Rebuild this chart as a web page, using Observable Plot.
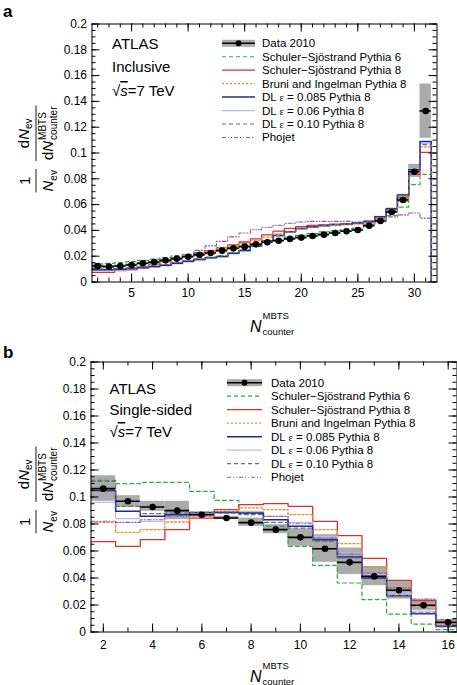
<!DOCTYPE html>
<html><head><meta charset="utf-8">
<script src="https://cdn.jsdelivr.net/npm/d3@7"></script>
<script src="https://cdn.jsdelivr.net/npm/@observablehq/plot@0.6"></script>
<style>
body{margin:0;background:#fff;}
#chart{width:457px;}
#chart svg{display:block;}
</style></head><body><div id="chart"></div>
<script>
// ---------- Panel a: Inclusive ----------
const nA = [2,3,4,5,6,7,8,9,10,11,12,13,14,15,16,17,18,19,20,21,22,23,24,25,26,27,28,29,30,31];
const dataA = [0.0124,0.0119,0.0124,0.0132,0.0145,0.0155,0.0168,0.0181,0.0196,0.021,0.0225,0.0243,0.0261,0.0274,0.0292,0.0308,0.032,0.0334,0.0344,0.0357,0.0367,0.038,0.0393,0.0403,0.0437,0.0473,0.0543,0.0636,0.0855,0.1326];
const bandLoA = [0.0116,0.0111,0.0116,0.0124,0.0137,0.0147,0.016,0.0173,0.0188,0.0202,0.0217,0.0235,0.0253,0.0266,0.0284,0.03,0.0312,0.0326,0.0336,0.0349,0.0359,0.0372,0.0385,0.0395,0.0427,0.0461,0.0529,0.0616,0.0811,0.1114];
const bandHiA = [0.0132,0.0127,0.0132,0.014,0.0153,0.0163,0.0176,0.0189,0.0204,0.0218,0.0233,0.0251,0.0269,0.0282,0.03,0.0316,0.0328,0.0342,0.0352,0.0365,0.0375,0.0388,0.0401,0.0411,0.0447,0.0485,0.0557,0.0656,0.0912,0.1535];
const ssP6A = [0.014,0.0145,0.015,0.0158,0.0168,0.0178,0.019,0.0202,0.0215,0.0227,0.0238,0.025,0.0262,0.0275,0.029,0.0312,0.033,0.0348,0.0362,0.0375,0.0388,0.0398,0.0408,0.0418,0.0435,0.0465,0.0515,0.058,0.0755,0.0835];
const ssP8A = [0.0075,0.0075,0.0088,0.0095,0.0118,0.0138,0.0158,0.0178,0.0198,0.022,0.0242,0.0265,0.0288,0.031,0.0335,0.0365,0.0395,0.0415,0.043,0.0438,0.0442,0.0446,0.045,0.0455,0.0465,0.0495,0.0553,0.0655,0.0835,0.1005];
const bruniA = [0.009,0.009,0.0098,0.0105,0.0122,0.014,0.0158,0.0176,0.0195,0.0215,0.0235,0.0256,0.0278,0.03,0.0322,0.0348,0.0372,0.0395,0.0412,0.0425,0.0432,0.0438,0.0443,0.0448,0.0458,0.049,0.0553,0.066,0.085,0.1047];
const dl085A = [0.0095,0.0095,0.0098,0.0102,0.011,0.012,0.013,0.0145,0.016,0.0175,0.0188,0.0198,0.0222,0.0245,0.028,0.032,0.036,0.039,0.0415,0.0428,0.0438,0.0445,0.045,0.0458,0.047,0.0505,0.0568,0.0675,0.087,0.109];
const dl06A = [0.0088,0.0088,0.0092,0.0096,0.0104,0.0114,0.0125,0.014,0.0155,0.017,0.0183,0.0195,0.0218,0.0242,0.0276,0.0316,0.0356,0.0388,0.0412,0.0426,0.0436,0.0444,0.045,0.0458,0.0472,0.0508,0.0572,0.068,0.0875,0.1075];
const dl10A = [0.0102,0.0102,0.0105,0.0109,0.0117,0.0127,0.0137,0.0151,0.0166,0.018,0.0193,0.0204,0.0227,0.025,0.0284,0.0323,0.0362,0.0391,0.0415,0.0428,0.0437,0.0444,0.0449,0.0456,0.0468,0.0502,0.0565,0.067,0.0862,0.1065];
const phojetA = [0.0115,0.0118,0.0122,0.013,0.014,0.015,0.0165,0.0185,0.021,0.0245,0.028,0.0315,0.035,0.038,0.0405,0.0425,0.044,0.0455,0.0465,0.047,0.047,0.047,0.047,0.0465,0.0468,0.048,0.0505,0.052,0.0535,0.0495];

// ---------- Panel b: Single-sided ----------
const nB = [2,3,4,5,6,7,8,9,10,11,12,13,14,15,16];
const dataB = [0.1062,0.0968,0.0926,0.0899,0.0869,0.0844,0.081,0.0758,0.0701,0.0617,0.0516,0.0412,0.0309,0.0198,0.0072];
const bandLoB = [0.0968,0.0923,0.0894,0.0832,0.0852,0.0832,0.0783,0.0728,0.0635,0.0516,0.0425,0.0343,0.0244,0.016,0.0052];
const bandHiB = [0.1158,0.101,0.0968,0.0968,0.0886,0.0857,0.0844,0.0795,0.0763,0.0721,0.0622,0.0486,0.0375,0.024,0.0091];
const ssP6B = [0.1123,0.1099,0.1109,0.1109,0.1042,0.0975,0.0877,0.0783,0.0635,0.0494,0.0363,0.024,0.0133,0.0059,0.0017];
const ssP8B = [0.0669,0.0635,0.0684,0.0758,0.0844,0.0906,0.0943,0.0951,0.0931,0.082,0.0714,0.0546,0.0383,0.0232,0.0067];
const bruniB = [0.0812,0.0738,0.0758,0.0815,0.0857,0.0894,0.0919,0.0906,0.0869,0.0758,0.0654,0.0481,0.0326,0.019,0.0054];
const dl085B = [0.1049,0.0894,0.0857,0.0869,0.0886,0.0886,0.0881,0.0832,0.0783,0.0684,0.0556,0.04,0.0269,0.0136,0.0042];
const dl06B = [0.096,0.084,0.082,0.0857,0.0881,0.0886,0.0894,0.0857,0.0812,0.0709,0.0585,0.0425,0.0289,0.0153,0.0047];
const dl10B = [0.1116,0.0931,0.0877,0.0881,0.0886,0.0881,0.0869,0.0812,0.077,0.0672,0.0548,0.0407,0.0269,0.0141,0.0037];
const phojetB = [0.082,0.0812,0.0832,0.0857,0.0881,0.0889,0.0881,0.0857,0.0802,0.0696,0.0578,0.0437,0.0326,0.0244,0.0091];

// ---------- ticks & labels ----------
const yTicks = [0,0.02,0.04,0.06,0.08,0.1,0.12,0.14,0.16,0.18,0.2];
const xTicksA = [5,10,15,20,25,30];
const xTicksB = [2,4,6,8,10,12,14,16];
const dataLabel = "Data 2010";
const seriesLabels = ["Schuler\u2212Sj\u00f6strand Pythia 6","Schuler\u2212Sj\u00f6strand Pythia 8","Bruni and Ingelman Pythia 8","DL \u03b5 = 0.085 Pythia 8","DL \u03b5 = 0.06 Pythia 8","DL \u03b5 = 0.10 Pythia 8","Phojet"];
const seriesKeys = ["ssP6","ssP8","bruni","dl085","dl06","dl10","phojet"];

// ---------- styles ----------
const STYLE = {
  ssP6:  {stroke:"#33a84a", width:1.2, dash:"4,3"},
  ssP8:  {stroke:"#e0302c", width:1.3, dash:null},
  bruni: {stroke:"#f08a30", width:1.3, dash:"2,2"},
  dl085: {stroke:"#1f2b8f", width:1.5, dash:null},
  dl06:  {stroke:"#b8bcf2", width:1.3, dash:null},
  dl10:  {stroke:"#6e6e78", width:1.2, dash:"4,3"},
  phojet:{stroke:"#8c5a9c", width:1.1, dash:"4,2,1,2,1,2"}
};
const drawOrder = ["ssP6","ssP8","bruni","dl06","phojet","dl085","dl10"];
const FONT = "'Liberation Sans', Arial, Helvetica, sans-serif";

function stepPts(ns, vals, drop) {
  const pts = ns.map((n, i) => ({x: n - 0.5, y: vals[i]}));
  const last = ns.length - 1;
  pts.push({x: ns[last] + 0.5, y: vals[last]});
  if (drop) pts.push({x: ns[last] + 0.5, y: 0});
  return pts;
}

function makePanel(cfg) {
  const rows = cfg.ns.map((n, i) => ({n, x1: n - 0.5, x2: n + 0.5, v: cfg.data[i], lo: cfg.lo[i], hi: cfg.hi[i]}));
  const innerW = cfg.width - cfg.mL - cfg.mR;
  const innerH = cfg.height - cfg.mT - cfg.mB;
  const yMinor = d3.range(0, 0.2001, 0.005);
  const xMinor = d3.range(Math.ceil(cfg.xDomain[0]), Math.floor(cfg.xDomainVisible) + 1, 1);
  const MAJ = 8, MIN = 4;
  const marks = [
    Plot.rect(rows, {x1: "x1", x2: "x2", y1: "lo", y2: "hi", fill: "#ababab", clip: true}),
    ...drawOrder.map(k => Plot.line(stepPts(cfg.ns, cfg.mc[k], cfg.drop), {
      x: "x", y: "y", curve: "step-after", stroke: STYLE[k].stroke, strokeWidth: STYLE[k].width,
      strokeDasharray: STYLE[k].dash, clip: true
    })),
    Plot.ruleY(rows, {y: "v", x1: "x1", x2: "x2", stroke: "black", strokeWidth: 1.6, clip: true}),
    Plot.dot(rows, {x: "n", y: "v", r: 3.3, fill: "black", stroke: null}),
    Plot.frame({stroke: "black", strokeWidth: 1}),
    Plot.ruleY(yMinor, {insetRight: innerW - MIN, stroke: "black"}),
    Plot.ruleY(yMinor, {insetLeft: innerW - MIN, stroke: "black"}),
    Plot.ruleY(yTicks, {insetRight: innerW - MAJ, stroke: "black"}),
    Plot.ruleY(yTicks, {insetLeft: innerW - MAJ, stroke: "black"}),
    Plot.ruleX(xMinor, {insetTop: innerH - MIN, stroke: "black"}),
    Plot.ruleX(xMinor, {insetBottom: innerH - MIN, stroke: "black"}),
    Plot.ruleX(cfg.xTicks, {insetTop: innerH - MAJ, stroke: "black"}),
    Plot.ruleX(cfg.xTicks, {insetBottom: innerH - MAJ, stroke: "black"}),
    Plot.axisY(yTicks, {anchor: "left", tickSize: 0, tickPadding: 5, tickFormat: d => String(d), label: null, fontSize: 12}),
    Plot.axisX(cfg.xTicks, {anchor: "bottom", tickSize: 0, tickPadding: cfg.xPad, tickFormat: d => String(d), label: null, fontSize: 12})
  ];
  return Plot.plot({
    width: cfg.width, height: cfg.height,
    marginLeft: cfg.mL, marginRight: cfg.mR, marginTop: cfg.mT, marginBottom: cfg.mB,
    x: {type: "linear", domain: cfg.xDomain, range: cfg.xRange, axis: null},
    y: {type: "linear", domain: [0, 0.2], axis: null},
    style: {fontFamily: FONT, fontSize: "12px", color: "black", background: "white"},
    marks
  });
}

function addText(g, x, y, s, size, opts = {}) {
  const t = g.append("text").attr("x", x).attr("y", y).attr("font-size", size)
    .attr("font-family", FONT).attr("fill", "black")
    .attr("text-anchor", opts.anchor || "start").text(s);
  if (opts.italic) t.attr("font-style", "italic");
  if (opts.bold) t.attr("font-weight", "bold");
  return t.node().getComputedTextLength();
}

function nMbts(g, x, y, big, small, supDy, subDy) {
  const wN = addText(g, x, y, "N", big, {italic: true});
  const w1 = addText(g, x + wN + 1, y + supDy, "MBTS", small);
  const w2 = addText(g, x + wN + 1, y + subDy, "counter", small);
  return wN + 1 + Math.max(w1, w2);
}

function yTitle(svg, cx, cy) {
  const F = 15, S = 10;
  const g = svg.append("g").attr("transform", `translate(${cx},${cy}) rotate(-90)`);
  const tmp = g.append("g").attr("opacity", 0);
  const wOne = addText(tmp, 0, 0, "1", F);
  const wN = addText(tmp, 0, 0, "N", F, {italic: true});
  const wd = addText(tmp, 0, 0, "d", F);
  const wev = addText(tmp, 0, 0, "ev", S);
  const wMB = Math.max(addText(tmp, 0, 0, "MBTS", S), addText(tmp, 0, 0, "counter", S));
  tmp.remove();
  const wDen1 = wN + wev, wNum2 = wd + wN + wev, wDen2 = wd + wN + 1 + wMB;
  const bar1 = Math.max(wOne, wDen1) + 2, bar2 = Math.max(wNum2, wDen2) + 2;
  const gap = 8;
  const total = bar1 + gap + bar2;
  let x = -total / 2;
  const numY = -7, denY = 17;
  addText(g, x + bar1 / 2 - wOne / 2, numY + 1, "1", F);
  g.append("line").attr("x1", x).attr("x2", x + bar1).attr("y1", 0).attr("y2", 0).attr("stroke", "black").attr("stroke-width", 0.9);
  let dx = x + bar1 / 2 - wDen1 / 2;
  addText(g, dx, denY, "N", F, {italic: true});
  addText(g, dx + wN, denY + 3.5, "ev", S);
  x = x + bar1 + gap;
  let nx = x + bar2 / 2 - wNum2 / 2;
  addText(g, nx, numY, "d", F);
  addText(g, nx + wd, numY, "N", F, {italic: true});
  addText(g, nx + wd + wN, numY + 3, "ev", S);
  g.append("line").attr("x1", x).attr("x2", x + bar2).attr("y1", 0).attr("y2", 0).attr("stroke", "black").attr("stroke-width", 0.9);
  dx = x + bar2 / 2 - wDen2 / 2;
  addText(g, dx, denY, "d", F);
  nMbts(g, dx + wd, denY, F, S, -7.5, 3.5);
}

function legend(svg, x0, x1, tx, y0, dy) {
  const g = svg.append("g");
  g.append("rect").attr("x", x0).attr("y", y0 - 3.5).attr("width", x1 - x0).attr("height", 7).attr("fill", "#ababab");
  g.append("line").attr("x1", x0).attr("x2", x1).attr("y1", y0).attr("y2", y0).attr("stroke", "black").attr("stroke-width", 1.6);
  g.append("circle").attr("cx", (x0 + x1) / 2).attr("cy", y0).attr("r", 3).attr("fill", "black");
  addText(g, tx, y0 + 4, dataLabel, 11.5);
  seriesKeys.forEach((k, i) => {
    const yy = y0 + dy * (i + 1);
    const st = STYLE[k];
    const ln = g.append("line").attr("x1", x0).attr("x2", x1).attr("y1", yy).attr("y2", yy)
      .attr("stroke", st.stroke).attr("stroke-width", st.width);
    if (st.dash) ln.attr("stroke-dasharray", st.dash);
    const label = seriesLabels[i];
    const t = g.append("text").attr("x", tx).attr("y", yy + 4).attr("font-size", 11.5)
      .attr("font-family", FONT).attr("text-anchor", "start").attr("fill", "black");
    if (label.includes("\u03b5")) {
      const [pre, post] = label.split("\u03b5");
      t.append("tspan").text(pre);
      t.append("tspan").attr("font-family", "'Liberation Serif', 'DejaVu Serif', serif").attr("font-size", 10.5).text("\u03b5");
      t.append("tspan").text(post);
    } else t.text(label);
  });
}

function atlasText(svg, x, ys, second) {
  const g = svg.append("g");
  addText(g, x, ys[0], "ATLAS", 15);
  addText(g, x, ys[1], second, 15);
  const t = g.append("text").attr("x", x).attr("y", ys[2]).attr("font-size", 15)
    .attr("font-family", FONT).attr("text-anchor", "start").attr("fill", "black");
  t.append("tspan").text("\u221a");
  t.append("tspan").attr("font-style", "italic").attr("text-decoration", "overline").text("s");
  t.append("tspan").text("=7 TeV");
}

const chart = document.getElementById("chart");

const svgA = makePanel({
  ns: nA, data: dataA, lo: bandLoA, hi: bandHiA,
  mc: {ssP6: ssP6A, ssP8: ssP8A, bruni: bruniA, dl085: dl085A, dl06: dl06A, dl10: dl10A, phojet: phojetA},
  drop: true, width: 457, height: 340, mL: 91.5, mR: 20.5, mT: 23.5, mB: 58.5,
  xDomain: [1.5, 32], xDomainVisible: 31.99, xRange: undefined, xTicks: xTicksA, xPad: 6
});
chart.appendChild(svgA);
{
  const s = d3.select(svgA);
  addText(s, 3, 17, "a", 17, {bold: true});
  atlasText(s, 112, [48.5, 72, 96], "Inclusive");
  legend(s, 222, 255, 262, 43.3, 13.45);
  yTitle(s, 36, 149);
  nMbts(s.append("g"), 250, 332, 16, 9.5, -13, 3);
}

const svgB = makePanel({
  ns: nB, data: dataB, lo: bandLoB, hi: bandHiB,
  mc: {ssP6: ssP6B, ssP8: ssP8B, bruni: bruniB, dl085: dl085B, dl06: dl06B, dl10: dl10B, phojet: phojetB},
  drop: false, width: 457, height: 345, mL: 90.5, mR: 0.5, mT: 21.5, mB: 53.5,
  xDomain: [1.5, 16.5], xDomainVisible: 16.3, xRange: [90.5, 460], xTicks: xTicksB, xPad: 8.5
});
chart.appendChild(svgB);
{
  const s = d3.select(svgB);
  addText(s, 3, 18, "b", 17, {bold: true});
  atlasText(s, 109.5, [53.7, 75.4, 97], "Single-sided");
  legend(s, 227, 262, 271, 42.7, 13.5);
  yTitle(s, 36, 150);
  nMbts(s.append("g"), 250, 341.5, 16, 9.5, -13, 3);
}
</script></body></html>
